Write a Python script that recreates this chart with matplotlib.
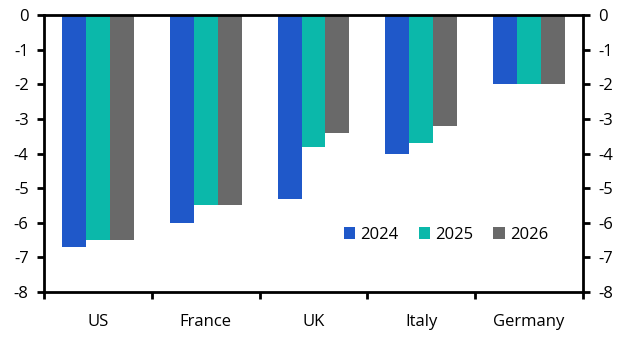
import matplotlib
matplotlib.use("Agg")
import matplotlib.pyplot as plt
import numpy as np

categories = ["US", "France", "UK", "Italy", "Germany"]
years = ["2024", "2025", "2026"]
v2024 = [-6.7, -6.0, -5.3, -4.0, -2.0]
v2025 = [-6.5, -5.5, -3.8, -3.7, -2.0]
v2026 = [-6.5, -5.5, -3.4, -3.2, -2.0]
colors = ["#1f58c9", "#0bb8aa", "#696969"]
yticks = [0, -1, -2, -3, -4, -5, -6, -7, -8]

plt.rcParams['font.family'] = ['Open Sans', 'DejaVu Sans']

fig = plt.figure(figsize=(6.31, 3.41), dpi=100)
ax = fig.add_axes([44/631, 1-292/341, (583-44)/631, (292-15)/341])

x = np.arange(len(categories))
w = 0.222
for i, (vals, lab) in enumerate(zip([v2024, v2025, v2026], years)):
    ax.bar(x + (i-1)*w, vals, width=w, color=colors[i], label=lab)

ax.set_xlim(-0.5, len(categories)-0.5)
ax.set_ylim(-8, 0)
ax.set_yticks(yticks)
ax.set_yticklabels([str(t) for t in yticks])
ax.tick_params(axis='y', which='both', direction='out', length=5, width=2,
               labelsize=12, left=True, right=True, labelleft=True, labelright=True, pad=6)
ax.set_xticks(np.arange(-0.5, len(categories), 1.0))
ax.set_xticklabels([])
ax.set_xticks(x, minor=True)
ax.set_xticklabels(categories, minor=True)
ax.tick_params(axis='x', which='major', direction='out', length=5, width=2)
ax.tick_params(axis='x', which='minor', length=0, labelsize=12, pad=16)

for s in ax.spines.values():
    s.set_linewidth(2)
    s.set_color('black')

leg = ax.legend(loc='center', bbox_to_anchor=((446-44)/(583-44), 1-(235-15)/(292-15)),
                ncol=3, frameon=False, fontsize=12, handlelength=0.7, handleheight=0.7,
                handletextpad=0.3, columnspacing=1.2)

fig.savefig("out.png", dpi=100)
